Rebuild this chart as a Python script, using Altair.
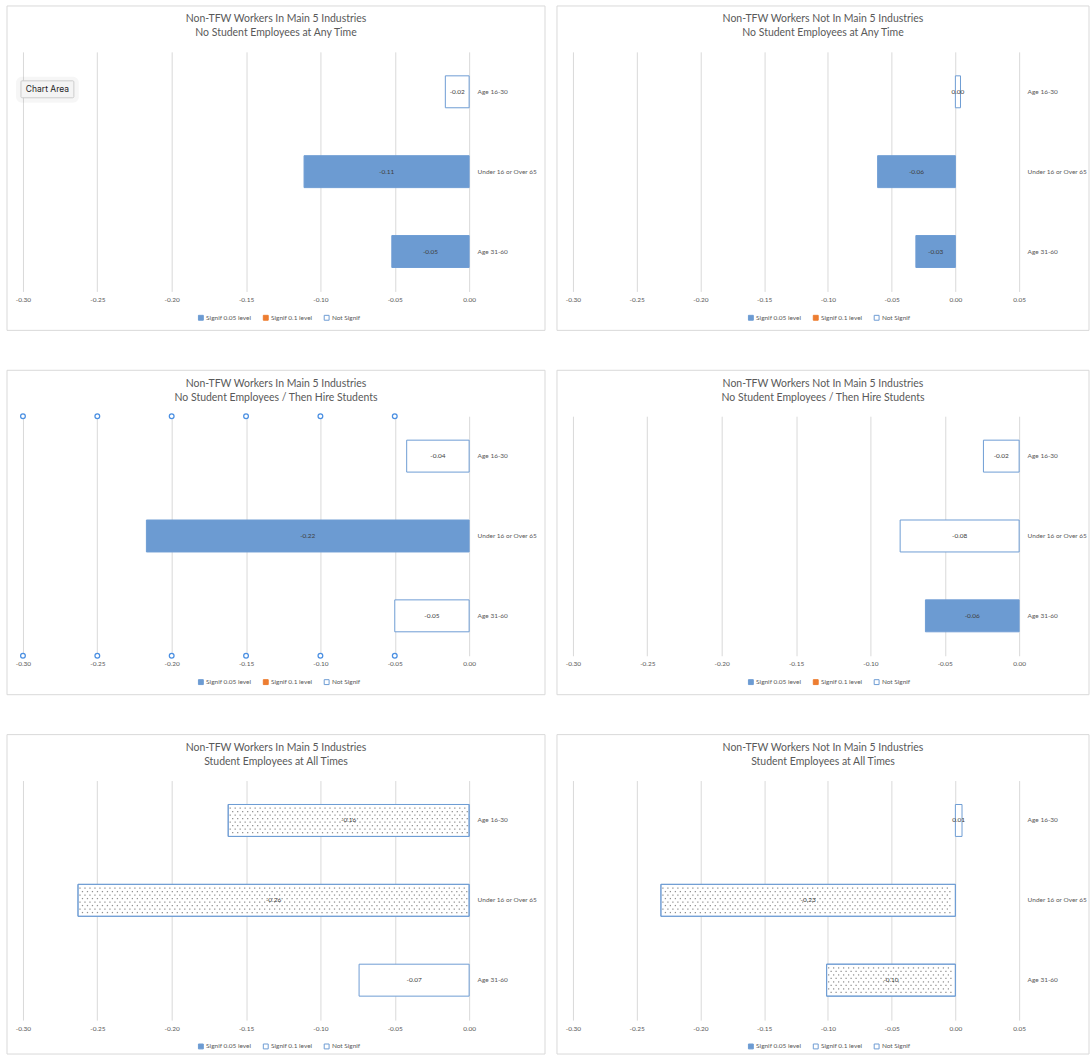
import altair as alt
import numpy as np
import pandas as pd

# ---- data -------------------------------------------------------------
categories = ["Age 16-30", "Under 16 or Over 65", "Age 31-60"]
levels = ["Signif 0.05 level", "Signif 0.1 level", "Not Signif"]

titles = [
    ["Non-TFW Workers In Main 5 Industries", "No Student Employees at Any Time"],
    ["Non-TFW Workers Not In Main 5 Industries", "No Student Employees at Any Time"],
    ["Non-TFW Workers In Main 5 Industries", "No Student Employees / Then Hire Students"],
    ["Non-TFW Workers Not In Main 5 Industries", "No Student Employees / Then Hire Students"],
    ["Non-TFW Workers In Main 5 Industries", "Student Employees at All Times"],
    ["Non-TFW Workers Not In Main 5 Industries", "Student Employees at All Times"],
]

effects = [
    [-0.016, -0.111, -0.052],
    [0.004, -0.061, -0.031],
    [-0.042, -0.217, -0.050],
    [-0.024, -0.080, -0.063],
    [-0.162, -0.263, -0.074],
    [0.0052, -0.231, -0.101],
]

signif = [
    ["Not Signif", "Signif 0.05 level", "Signif 0.05 level"],
    ["Not Signif", "Signif 0.05 level", "Signif 0.05 level"],
    ["Not Signif", "Signif 0.05 level", "Not Signif"],
    ["Not Signif", "Not Signif", "Signif 0.05 level"],
    ["Signif 0.1 level", "Signif 0.1 level", "Not Signif"],
    ["Not Signif", "Signif 0.1 level", "Signif 0.1 level"],
]

ticks_short = [-0.30, -0.25, -0.20, -0.15, -0.10, -0.05, 0.00]
ticks_long = [-0.30, -0.25, -0.20, -0.15, -0.10, -0.05, 0.00, 0.05]
domain_short = [-0.30, 0.00]
domain_long = [-0.30, 0.05]

# ---- styling ----------------------------------------------------------
BLUE = "#6C9BD2"
EDGE = "#6E9DD4"
ORANGE = "#ED7D31"
GRID = "#D9D9D9"
TEXT = "#595959"
LABEL = "#404040"
FONT = "Lato"
MINUS = "\u2212"

W, H = 447, 240


def panel(i, domain, ticks, right_col=False, bottom_row=False,
          hollow_01=False, handles=False, tooltip=False):
    df = pd.DataFrame({"cat": categories, "value": effects[i], "sig": signif[i]})
    one = pd.DataFrame({"k": [0]})

    xscale = alt.Scale(domain=domain, nice=False, zero=False)
    xaxis = alt.Axis(values=ticks, format=".2f",
                     labelExpr=f"replace(datum.label, '{MINUS}', '-')")
    yscale = alt.Scale(domain=categories, paddingInner=0.6, paddingOuter=0.3)
    yaxis = alt.Axis(orient="right")

    def X(field):
        return alt.X(field, scale=xscale, axis=xaxis, title=None)

    def Y():
        return alt.Y("cat:N", scale=yscale, axis=yaxis, title=None)

    if hollow_01:
        fill_range = [BLUE, "white", "white"]
        stroke_range = [EDGE, EDGE, EDGE]
    else:
        fill_range = [BLUE, ORANGE, "white"]
        stroke_range = [EDGE, ORANGE, EDGE]

    legend = alt.Legend(
        orient="none", legendX=175, legendY=263, direction="horizontal",
        title=None, symbolType="square", symbolSize=24, symbolStrokeWidth=1,
        labelFontSize=6.5, labelColor=TEXT, labelFont=FONT,
        columnPadding=9, labelOffset=2, padding=0,
    )

    frame_right = 517 if right_col else 523
    frame_bottom = H + 34 if bottom_row else H + 39
    frame = alt.Chart(one).mark_rect(
        fillOpacity=0, stroke=GRID, strokeWidth=1
    ).encode(
        x=alt.value(-16), x2=alt.value(frame_right),
        y=alt.value(-46), y2=alt.value(frame_bottom),
    )

    title = alt.Chart(one).mark_text(
        text=titles[i], lineHeight=14, baseline="top", align="center",
        fontSize=10.5, font=FONT, color=TEXT,
    ).encode(x=alt.value((frame_right - 16) / 2), y=alt.value(-37.5))

    bars = alt.Chart(df).mark_bar(strokeWidth=1).encode(
        x=X("value:Q"),
        x2=alt.datum(0),
        y=Y(),
        fill=alt.Fill("sig:N", scale=alt.Scale(domain=levels, range=fill_range), legend=legend),
        stroke=alt.Stroke("sig:N", scale=alt.Scale(domain=levels, range=stroke_range), legend=legend),
    )

    layers = [frame, title, bars]

    # dotted texture inside bars significant at the 0.1 level
    dotted = df[df["sig"] == "Signif 0.1 level"]
    if len(dotted):
        unit = W / (domain[1] - domain[0])
        pts = []
        for _, r in dotted.iterrows():
            a, b = sorted([r["value"], 0.0])
            for xv in np.arange(a + 2.0 / unit, b - 3.5 / unit, 5.0 / unit):
                pts.append({"cat": r["cat"], "dx": float(xv)})
        dots = pd.DataFrame(pts)
        offsets = [-12.25, -8.75, -5.25, -1.75, 1.75, 5.25, 8.75, 12.25]
        for k, oy in enumerate(offsets):
            layers.append(
                alt.Chart(dots).mark_square(
                    size=1.6, color="#858585", opacity=0.9,
                    yOffset=oy, xOffset=2.5 * (k % 2),
                ).encode(x=X("dx:Q"), y=Y())
            )
        layers.append(
            alt.Chart(dotted).mark_bar(fillOpacity=0, stroke=EDGE, strokeWidth=1).encode(
                x=X("value:Q"), x2=alt.datum(0), y=Y()
            )
        )

    labels = alt.Chart(df).transform_calculate(
        mid="datum.value / 2",
        txt=f"replace(format(datum.value, '.2f'), '{MINUS}', '-')",
    ).mark_text(
        fontSize=6.5, font=FONT, color=LABEL, baseline="middle", align="center"
    ).encode(x=X("mid:Q"), y=Y(), text="txt:N")
    layers.append(labels)

    if handles:
        hdf = pd.DataFrame({"t": ticks[:-1]})
        for yy in (0, H):
            layers.append(
                alt.Chart(hdf).mark_point(
                    shape="circle", filled=True, fill="white", stroke="#4A8FE2",
                    strokeWidth=1.3, size=22, opacity=1,
                ).encode(x=X("t:Q"), y=alt.value(yy))
            )

    if tooltip:
        layers.append(
            alt.Chart(one).mark_rect(fill="#000000", opacity=0.035, cornerRadius=6).encode(
                x=alt.value(-7), x2=alt.value(56), y=alt.value(25), y2=alt.value(51)
            )
        )
        layers.append(
            alt.Chart(one).mark_rect(fill="#F4F4F4", stroke="#CDCDCD", strokeWidth=1, cornerRadius=1).encode(
                x=alt.value(-2), x2=alt.value(51), y=alt.value(29), y2=alt.value(46)
            )
        )
        layers.append(
            alt.Chart(one).mark_text(
                text="Chart Area", fontSize=8.5, font="Inter", color="#1E1E1E",
                align="center", baseline="middle",
            ).encode(x=alt.value(24.5), y=alt.value(37.5))
        )

    return alt.layer(*layers).properties(width=W, height=H)


p1 = panel(0, domain_short, ticks_short, tooltip=True)
p2 = panel(1, domain_long, ticks_long, right_col=True)
p3 = panel(2, domain_short, ticks_short, handles=True)
p4 = panel(3, domain_short, ticks_short, right_col=True)
p5 = panel(4, domain_short, ticks_short, bottom_row=True, hollow_01=True)
p6 = panel(5, domain_long, ticks_long, right_col=True, bottom_row=True, hollow_01=True)


def row(a, b):
    return alt.hconcat(a, b, spacing=10).resolve_scale(
        fill="independent", stroke="independent", x="independent", y="independent"
    ).resolve_legend(fill="independent", stroke="independent")


chart = alt.vconcat(
    row(p1, p2), row(p3, p4), row(p5, p6), spacing=38,
).resolve_scale(
    fill="independent", stroke="independent", x="independent", y="independent"
).resolve_legend(
    fill="independent", stroke="independent"
).properties(
    padding={"left": 6, "top": 4, "right": 0, "bottom": 0}
).configure(
    font=FONT
).configure_view(
    stroke="transparent"
).configure_axisX(
    labelFontSize=6.5, labelColor=TEXT, labelFont=FONT, labelPadding=5,
    labelFlush=False, ticks=False, domain=False, grid=True, gridColor=GRID, gridWidth=1,
).configure_axisY(
    labelFontSize=6.5, labelColor=TEXT, labelFont=FONT, labelPadding=8,
    ticks=False, domain=False, grid=False, labelLimit=0, labelAlign="left",
)

chart.save("out.html", embed_options={"renderer": "svg", "actions": False})
